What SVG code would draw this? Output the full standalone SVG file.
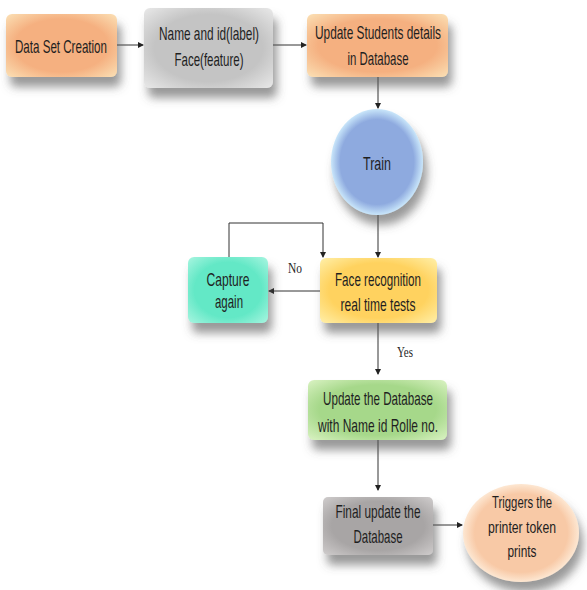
<svg xmlns="http://www.w3.org/2000/svg" width="587" height="590" viewBox="0 0 587 590">
<style>
text{font-family:"Liberation Sans","DejaVu Sans Condensed",sans-serif;font-size:19px;fill:#1f1f1f;text-anchor:middle}
.sm{font-size:17px}
.lbl{font-family:"Liberation Serif",serif;font-size:15px;text-anchor:start}
.c{fill:none;stroke:#333;stroke-width:1}
</style>
<defs>
<filter id="sh" x="-20%" y="-20%" width="150%" height="170%">
<feDropShadow dx="4" dy="10" stdDeviation="5" flood-color="#555" flood-opacity="0.6"/>
</filter>
<marker id="ar" markerWidth="6" markerHeight="6" refX="5" refY="3" orient="auto" markerUnits="userSpaceOnUse">
<path d="M0,0 L6,3 L0,6 Z" fill="#222"/>
</marker>
<radialGradient id="gPeach" cx="50%" cy="50%" r="70%"><stop offset="0.6" stop-color="#F5B080"/><stop offset="1" stop-color="#FBE0B5"/></radialGradient>
<radialGradient id="gGray" cx="50%" cy="50%" r="70%"><stop offset="0.6" stop-color="#C4C4C4"/><stop offset="1" stop-color="#E8E8E8"/></radialGradient>
<radialGradient id="gBlue" cx="50%" cy="50%" r="50%"><stop offset="0.8" stop-color="#8EAADF"/><stop offset="1" stop-color="#C9E6FA"/></radialGradient>
<radialGradient id="gYellow" cx="50%" cy="50%" r="70%"><stop offset="0.6" stop-color="#FFD25E"/><stop offset="1" stop-color="#FFEFA8"/></radialGradient>
<radialGradient id="gTeal" cx="50%" cy="50%" r="70%"><stop offset="0.6" stop-color="#63E8C6"/><stop offset="1" stop-color="#A8F5E0"/></radialGradient>
<radialGradient id="gGreen" cx="50%" cy="50%" r="70%"><stop offset="0.6" stop-color="#A6D88A"/><stop offset="1" stop-color="#D9F2C2"/></radialGradient>
<radialGradient id="gDark" cx="50%" cy="50%" r="70%"><stop offset="0.6" stop-color="#A8A5A5"/><stop offset="1" stop-color="#CFCCCC"/></radialGradient>
<radialGradient id="gSalmon" cx="50%" cy="50%" r="50%"><stop offset="0.8" stop-color="#F8C9A6"/><stop offset="1" stop-color="#FDE7D2"/></radialGradient>
</defs>
<rect width="587" height="590" fill="#fff"/>
<g id="connectors">
<line class="c" x1="117" y1="45" x2="143" y2="45" marker-end="url(#ar)"/>
<line class="c" x1="273" y1="45" x2="306" y2="45" marker-end="url(#ar)"/>
<line class="c" x1="378" y1="77" x2="378" y2="108" marker-end="url(#ar)"/>
<line class="c" x1="378" y1="215" x2="378" y2="257" marker-end="url(#ar)"/>
<polyline class="c" points="229,257 229,223 323,223 323,257" marker-end="url(#ar)"/>
<line class="c" x1="320" y1="291" x2="269" y2="291" marker-end="url(#ar)"/>
<line class="c" x1="378" y1="323" x2="378" y2="374" marker-end="url(#ar)"/>
<line class="c" x1="378" y1="440" x2="378" y2="490" marker-end="url(#ar)"/>
<line class="c" x1="433" y1="525" x2="462" y2="525" marker-end="url(#ar)"/>
<text class="lbl" x="288" y="273" textLength="14" lengthAdjust="spacingAndGlyphs">No</text>
<text class="lbl" x="397" y="357" textLength="16" lengthAdjust="spacingAndGlyphs">Yes</text>
</g>
<g id="dataset">
<rect x="6" y="14" width="111" height="63" rx="6" fill="url(#gPeach)" filter="url(#sh)"/>
<text x="61" y="53" textLength="92" lengthAdjust="spacingAndGlyphs">Data Set Creation</text>
</g>
<g id="nameid">
<rect x="144" y="8" width="129" height="80" rx="6" fill="url(#gGray)" filter="url(#sh)"/>
<text x="209" y="40" textLength="100" lengthAdjust="spacingAndGlyphs">Name and id(label)</text>
<text x="209" y="66" textLength="69" lengthAdjust="spacingAndGlyphs">Face(feature)</text>
</g>
<g id="update-students">
<rect x="307" y="14" width="141" height="63" rx="6" fill="url(#gPeach)" filter="url(#sh)"/>
<text x="378" y="39" textLength="126" lengthAdjust="spacingAndGlyphs">Update Students details</text>
<text x="378" y="65" textLength="61" lengthAdjust="spacingAndGlyphs">in Database</text>
</g>
<g id="train">
<ellipse cx="377" cy="162" rx="46" ry="53" fill="url(#gBlue)" filter="url(#sh)"/>
<text x="377" y="170" textLength="28" lengthAdjust="spacingAndGlyphs">Train</text>
</g>
<g id="face-recognition">
<rect x="320" y="258" width="117" height="65" rx="6" fill="url(#gYellow)" filter="url(#sh)"/>
<text x="378" y="286" textLength="86" lengthAdjust="spacingAndGlyphs">Face recognition</text>
<text x="378" y="311" textLength="75" lengthAdjust="spacingAndGlyphs">real time tests</text>
</g>
<g id="capture-again">
<rect x="188" y="257" width="80" height="66" rx="6" fill="url(#gTeal)" filter="url(#sh)"/>
<text x="228" y="286" textLength="43" lengthAdjust="spacingAndGlyphs">Capture</text>
<text x="229" y="308" textLength="28" lengthAdjust="spacingAndGlyphs">again</text>
</g>
<g id="update-db">
<rect x="308" y="380" width="139" height="60" rx="6" fill="url(#gGreen)" filter="url(#sh)"/>
<text x="378" y="405" textLength="110" lengthAdjust="spacingAndGlyphs">Update the Database</text>
<text x="378" y="432" textLength="120" lengthAdjust="spacingAndGlyphs">with Name id Rolle no.</text>
</g>
<g id="final-update">
<rect x="323" y="497" width="110" height="58" rx="5" fill="url(#gDark)" filter="url(#sh)"/>
<text x="378" y="518" textLength="85" lengthAdjust="spacingAndGlyphs">Final update the</text>
<text x="378" y="543" textLength="49" lengthAdjust="spacingAndGlyphs">Database</text>
</g>
<g id="triggers">
<ellipse cx="521" cy="533" rx="58" ry="49" fill="url(#gSalmon)" filter="url(#sh)"/>
<text class="sm" x="522" y="508" textLength="60" lengthAdjust="spacingAndGlyphs">Triggers the</text>
<text class="sm" x="522" y="533" textLength="68" lengthAdjust="spacingAndGlyphs">printer token</text>
<text class="sm" x="522" y="557" textLength="29" lengthAdjust="spacingAndGlyphs">prints</text>
</g>
</svg>
